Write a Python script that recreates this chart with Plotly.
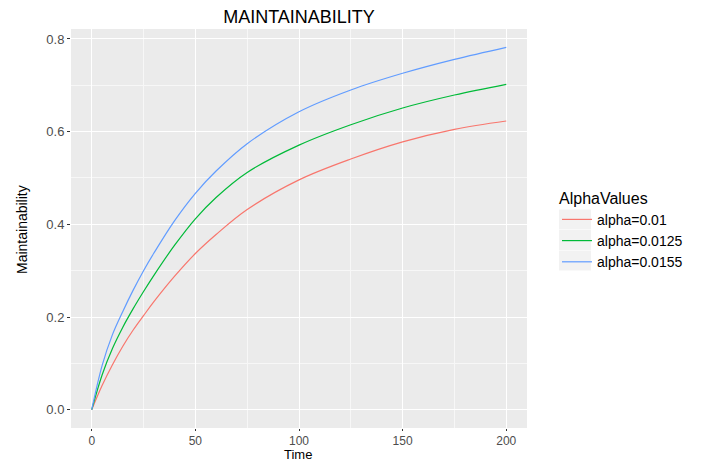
import plotly.graph_objects as go

time = [0, 5, 10, 15, 20, 25, 30, 40, 50, 60, 75, 100, 125, 150, 175, 200]
alpha_001 = [0.0, 0.052, 0.097, 0.137, 0.172, 0.203, 0.233, 0.288, 0.337, 0.378, 0.432, 0.496, 0.541, 0.578, 0.605, 0.623]
alpha_00125 = [0.0, 0.075, 0.132, 0.178, 0.218, 0.255, 0.290, 0.355, 0.412, 0.458, 0.512, 0.571, 0.615, 0.651, 0.679, 0.702]
alpha_00155 = [0.0, 0.095, 0.162, 0.212, 0.258, 0.300, 0.338, 0.408, 0.467, 0.515, 0.574, 0.643, 0.690, 0.726, 0.756, 0.782]
series_names = ["alpha=0.01", "alpha=0.0125", "alpha=0.0155"]
colors = ["#F8766D", "#00BA38", "#619CFF"]
x_ticks = [0, 50, 100, 150, 200]
x_minor = [25, 75, 125, 175]
y_ticks = [0.0, 0.2, 0.4, 0.6, 0.8]
y_tick_labels = ["0.0", "0.2", "0.4", "0.6", "0.8"]
y_minor = [0.1, 0.3, 0.5, 0.7]

fig = go.Figure()
for name, vals, col in zip(series_names, [alpha_001, alpha_00125, alpha_00155], colors):
    fig.add_trace(go.Scatter(x=time, y=vals, mode="lines", name=name,
                             line=dict(color=col, width=1.2, shape="spline", smoothing=1.0)))

font_family = "Liberation Sans, Arial, sans-serif"
L, R, T, B = 71, 184, 29, 35
W, H = 711, 463
pw, ph = W - L - R, H - T - B


def px_x(p):
    return (p - L) / pw


def px_y(p):
    return (H - B - p) / ph


# light grey legend key backgrounds (ggplot style)
key_shapes = []
for top, bot in [(209.5, 229.5), (230, 250), (250.5, 270.5)]:
    key_shapes.append(dict(type="rect", xref="paper", yref="paper",
                           x0=px_x(559), x1=px_x(591), y0=px_y(bot), y1=px_y(top),
                           fillcolor="#F2F2F2", line=dict(width=0), layer="below"))

fig.update_layout(
    width=W, height=H,
    margin=dict(l=L, r=R, t=T, b=B, autoexpand=False),
    paper_bgcolor="white",
    plot_bgcolor="#EBEBEB",
    font=dict(family=font_family, color="#4D4D4D"),
    title=dict(text="MAINTAINABILITY", x=(L + 228) / W, xanchor="center",
               y=1 - 17 / H, yanchor="middle",
               font=dict(size=18, color="black", family=font_family)),
    xaxis=dict(range=[-10, 210], tickvals=x_ticks, ticks="outside", ticklen=2,
               tickcolor="#333333", tickfont=dict(size=12, color="#4D4D4D"),
               showgrid=True, gridcolor="white", gridwidth=1.2, zeroline=False,
               minor=dict(tickvals=x_minor, showgrid=True, gridcolor="#F7F7F7", gridwidth=0.6, ticks=""),
               automargin=False, showline=False),
    yaxis=dict(range=[-0.0395, 0.8215], tickvals=y_ticks, ticktext=y_tick_labels, ticks="outside", ticklen=3,
               tickcolor="#333333", tickfont=dict(size=13, color="#4D4D4D"),
               showgrid=True, gridcolor="white", gridwidth=1.2, zeroline=False,
               minor=dict(tickvals=y_minor, showgrid=True, gridcolor="#F7F7F7", gridwidth=0.6, ticks=""),
               automargin=False, showline=False),
    legend=dict(x=px_x(557), xanchor="left", y=px_y(183), yanchor="top",
                title=dict(text="AlphaValues", font=dict(size=16, color="black")),
                font=dict(size=14, color="black"), bgcolor="rgba(0,0,0,0)",
                itemwidth=30, tracegroupgap=0),
    showlegend=True,
    shapes=key_shapes,
    annotations=[
        dict(text="Time", xref="paper", yref="paper", x=px_x(298), y=px_y(463),
             xanchor="center", yanchor="bottom", showarrow=False, borderpad=0,
             font=dict(size=13, color="black")),
        dict(text="Maintainability", xref="paper", yref="paper", x=px_x(22), y=px_y(230),
             xanchor="center", yanchor="middle", showarrow=False, textangle=-90,
             font=dict(size=14, color="black")),
    ],
)

fig.write_html("out.html", config={"displayModeBar": False},
               post_script="document.body.style.margin='0px';")
